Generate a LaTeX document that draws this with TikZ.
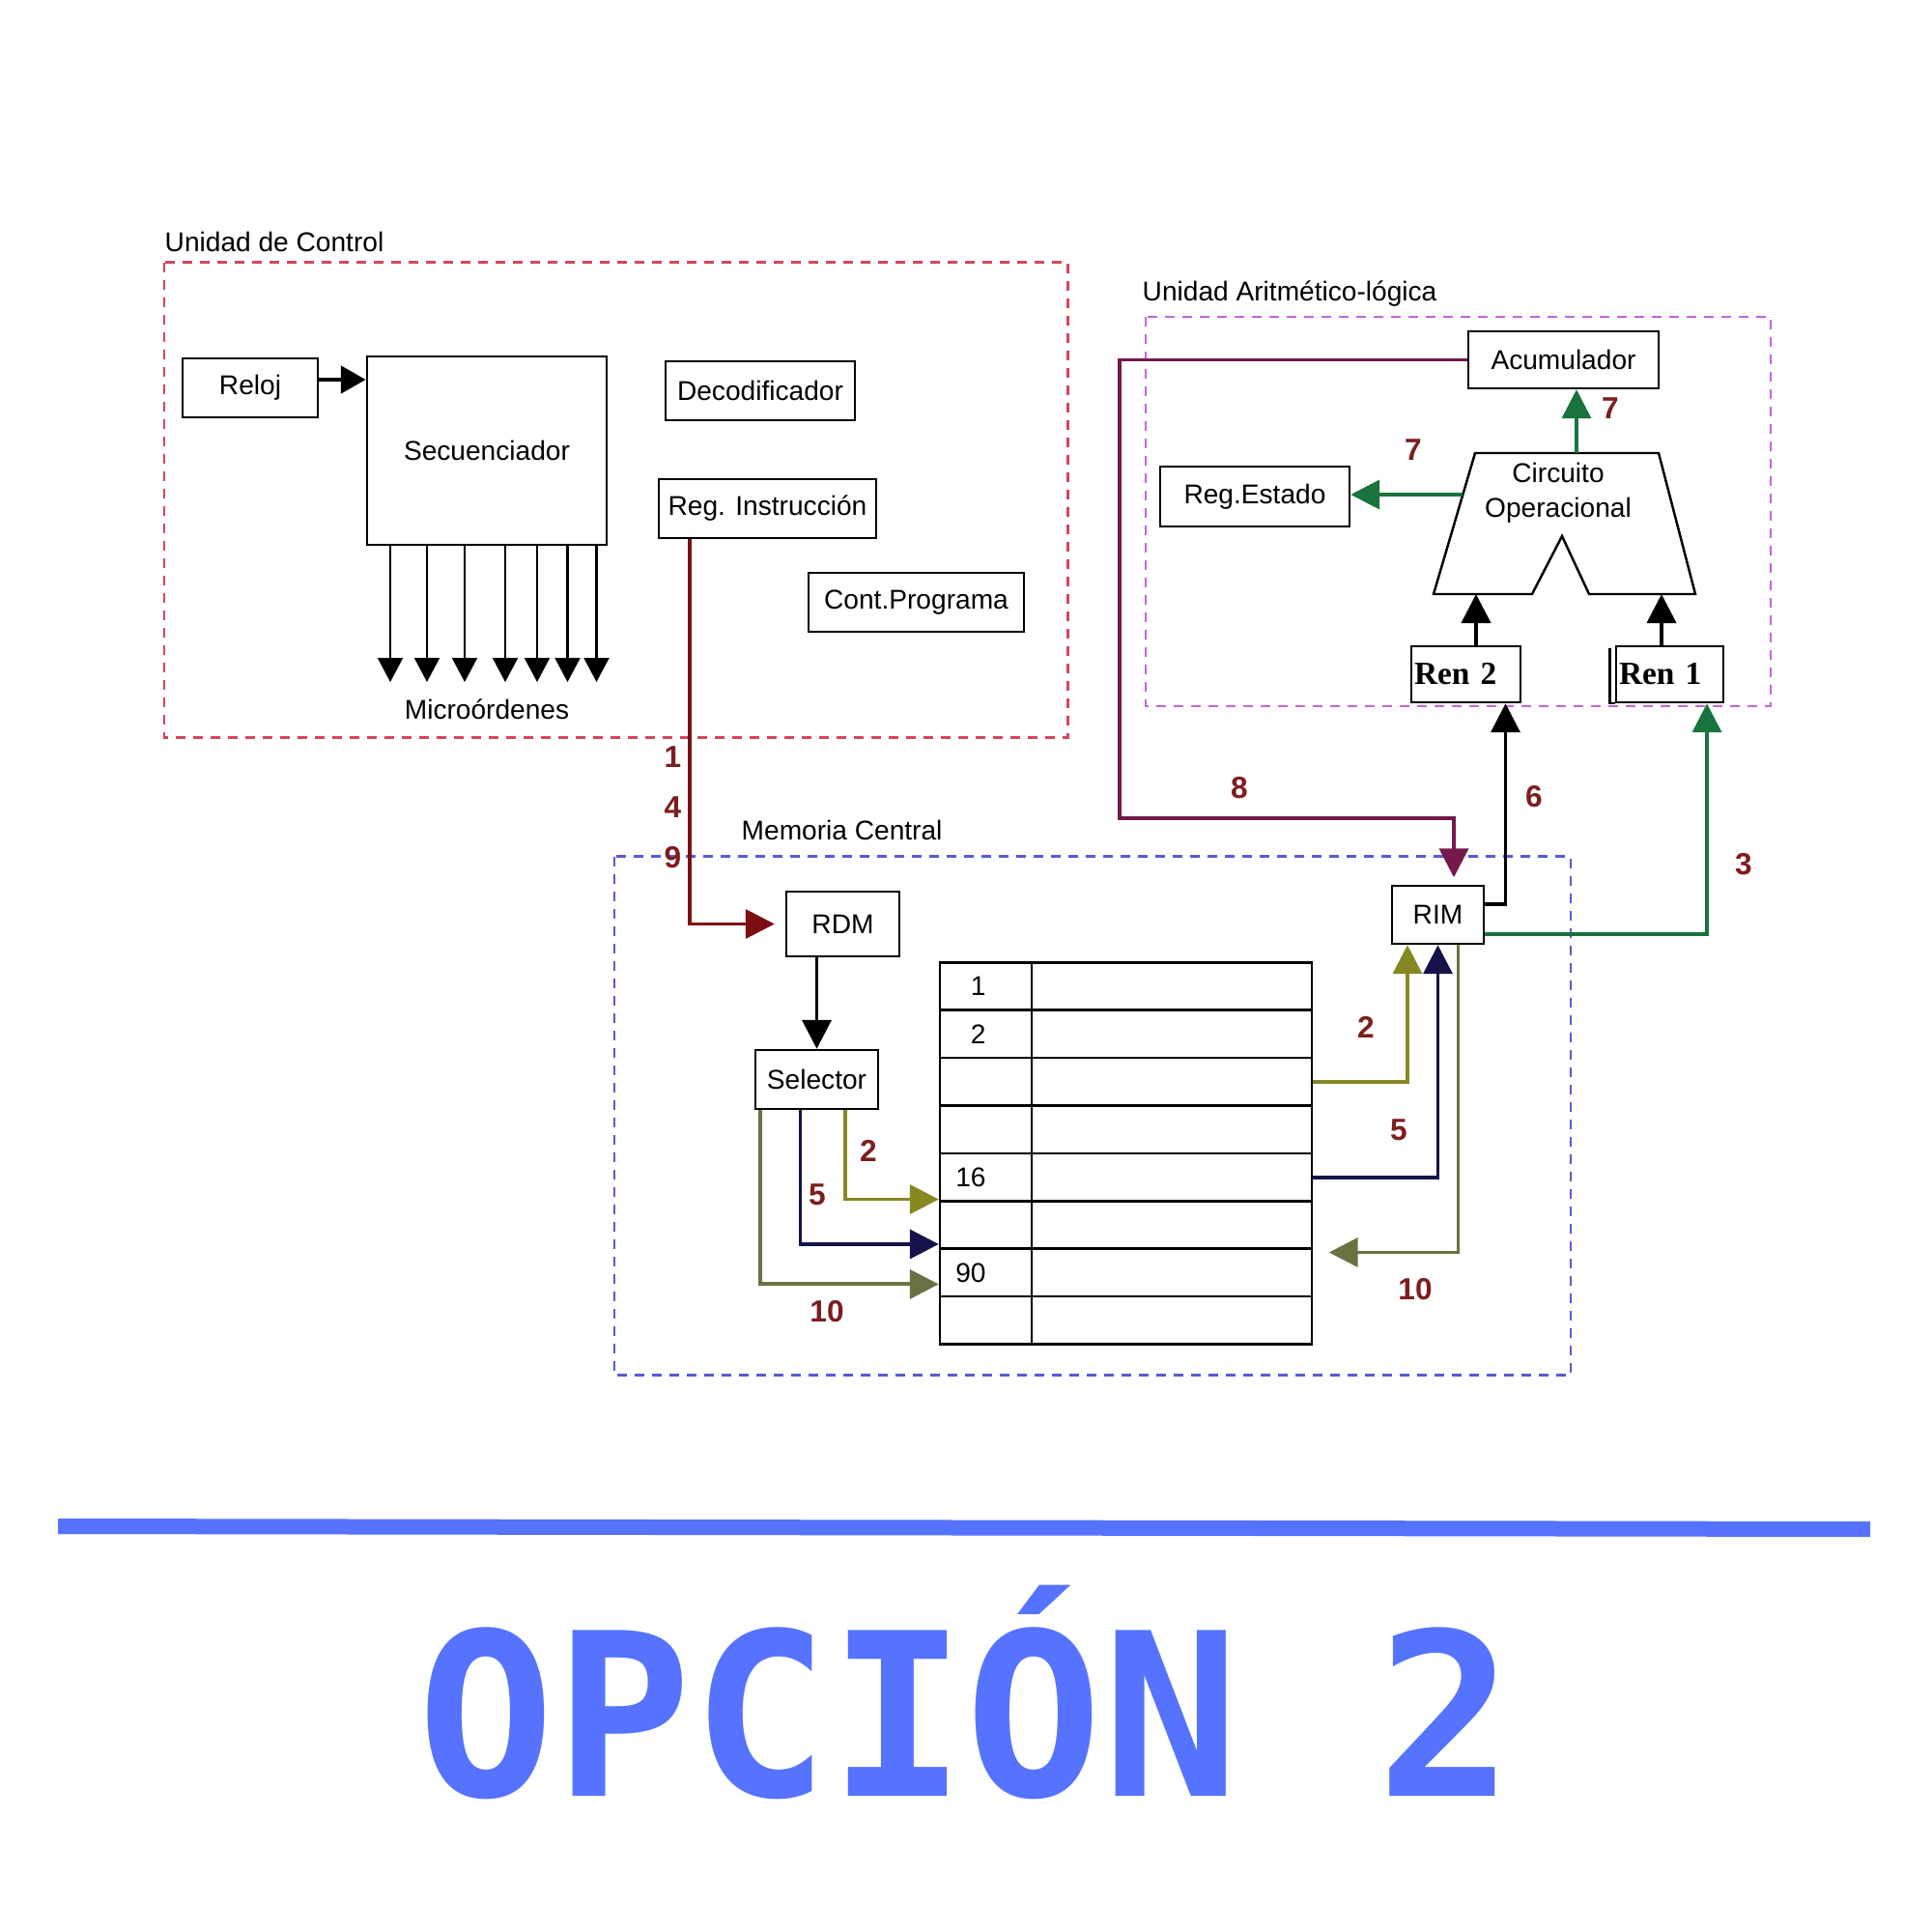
\documentclass[tikz,border=0pt]{standalone}
\usepackage{fontspec}
\setmainfont{Liberation Sans}
\newfontfamily\renfont{Liberation Serif}
\newfontfamily\optfont{DejaVu Sans Mono}
\usetikzlibrary{arrows.meta}
\definecolor{ctrlred}{RGB}{214,70,90}
\definecolor{alumag}{RGB}{200,100,220}
\definecolor{memblue}{RGB}{90,90,210}
\definecolor{dred}{RGB}{125,15,20}
\definecolor{purp}{RGB}{115,25,75}
\definecolor{grn}{RGB}{25,115,60}
\definecolor{oliv}{RGB}{135,135,35}
\definecolor{navyb}{RGB}{20,20,75}
\definecolor{olv10}{RGB}{105,115,65}
\definecolor{numred}{RGB}{125,30,30}
\definecolor{optblue}{RGB}{85,115,255}
\begin{document}
\begin{tikzpicture}[x=1cm,y=-1cm,font=\fontsize{8}{10.2}\selectfont,
  box/.style={draw,line width=0.7pt,inner sep=0pt},
  ren/.style={box,minimum height=0.58cm,font=\renfont\bfseries\fontsize{9.5}{10}\selectfont,align=left,inner xsep=0.3mm},
  cell/.style={draw,line width=0.7pt,minimum height=0.494cm,inner sep=0pt},
  conn/.style={line width=1.1pt},
  arr/.style={-{Triangle[length=3mm,width=3mm]}},
  num/.style={font=\bfseries\fontsize{9}{10}\selectfont,text=numred},
  frame/.style={line width=0.8pt,dash pattern=on 1mm off 0.8mm}]
\useasboundingbox (0,0) rectangle (20,20);
\draw[frame,ctrlred] (1.70,2.715) rectangle (11.055,7.635);
\draw[frame,alumag] (11.86,3.28) rectangle (18.33,7.31);
\draw[frame,memblue] (6.36,8.865) rectangle (16.26,14.235);
\node[anchor=base west,inner sep=0] (tuc) at (1.70,2.60) {Unidad de Control};
\node[anchor=base west,inner sep=0] (tual) at (11.82,3.11) {Unidad Aritmético-lógica};
\node[anchor=base west,inner sep=0] (tmc) at (7.67,8.69) {Memoria Central};

\node[box,minimum width=1.40cm,minimum height=0.61cm] (reloj) at (2.59,4.015) {Reloj};
\node[box,minimum width=2.48cm,minimum height=1.95cm] (secu) at (5.04,4.665) {Secuenciador};
\node[box,minimum width=1.96cm,minimum height=0.61cm] (deco) at (7.87,4.045) {Decodificador};
\node[box,minimum width=2.25cm,minimum height=0.61cm] (regins) at (7.945,5.265) {Reg. Instrucción};
\node[box,minimum width=2.23cm,minimum height=0.61cm] (contp) at (9.485,6.235) {Cont.Programa};
\node[anchor=base,inner sep=0] (micro) at (5.04,7.44) {Microórdenes};
\draw[line width=1.4pt,-{Triangle[length=2.6mm,width=2.8mm]}] ([yshift=0.85mm]reloj.east) -- ([yshift=0.85mm]reloj.east -| secu.west);
\foreach \x in {4.04,4.42,4.81,5.23,5.56,5.875,6.175}
  \draw[line width=0.6pt,-{Triangle[length=2.5mm,width=2.6mm]}] (secu.south -| \x,0) -- (\x,7.06);

\node[box,minimum width=1.17cm,minimum height=0.67cm] (rdm) at (8.725,9.565) {RDM};
\node[box,minimum width=1.27cm,minimum height=0.61cm] (sel) at (8.455,11.175) {Selector};
\node[box,minimum width=0.95cm,minimum height=0.60cm] (rim) at (14.885,9.47) {RIM};
\foreach \i in {1,...,8}{
  \node[cell,minimum width=0.95cm] (adr\i) at ({10.205},{9.716+0.494*\i}) {};
  \node[cell,minimum width=2.90cm] (cel\i) at ({12.13},{9.716+0.494*\i}) {};
}
\foreach \i/\t in {1/1,2/2,5/16,7/90}
  \node[anchor=east,inner sep=0] (no\i) at ([xshift=-4.8mm]adr\i.east) {\t};

\node[box,minimum width=1.97cm,minimum height=0.59cm] (acum) at (16.185,3.725) {Acumulador};
\node[box,minimum width=1.96cm,minimum height=0.62cm] (regest) at (12.99,5.14) {Reg.Estado};
\node[ren,text width=1.07cm] (ren2) at (15.175,6.98) {Ren 2};
\node[ren,text width=1.05cm] (ren1) at (17.285,6.98) {Ren 1};
\draw[line width=0.7pt] ([xshift=-0.55mm,yshift=-0.3mm]ren1.north west) -- ([xshift=-0.55mm]ren1.south west) -- (ren1.south west);
\coordinate (ctl) at (15.27,4.69);
\coordinate (ctr) at (17.17,4.69);
\coordinate (cbr) at (17.55,6.15);
\coordinate (cbl) at (14.84,6.15);
\coordinate (cout) at (15.143,5.12);
\draw[line width=0.7pt] (ctl) -- (ctr) -- (cbr) -- (16.45,6.15) -- (16.17,5.55) -- (15.86,6.15) -- (cbl) -- cycle;
\node[align=center] (circ) at (16.13,5.10) {Circuito\\Operacional};

\draw[conn,arr] ([xshift=1.05mm]ren2.north) -- ([xshift=1.05mm]ren2.north |- cbl);
\draw[conn,arr] ([xshift=-0.85mm]ren1.north) -- ([xshift=-0.85mm]ren1.north |- cbl);
\draw[conn,grn,arr] ([xshift=1.35mm]acum.south |- ctl) -- ([xshift=1.35mm]acum.south);
\draw[conn,grn,arr] (cout) -- (cout -| regest.east);

\draw[conn,dred,arr] (regins.south -| 7.14,0) |- ([xshift=-1.1mm]rdm.west);
\draw[conn,arr] (rdm.south -| sel.north) -- (sel.north);
\draw[conn,oliv,arr] (sel.south -| 8.75,0) |- ([yshift=0.3mm]adr5.south west);
\draw[conn,navyb,arr] (sel.south -| 8.285,0) |- ([yshift=0.6mm]adr6.south west);
\draw[conn,olv10,arr] (sel.south -| 7.87,0) |- ([yshift=-1.2mm]adr7.west);
\draw[conn,oliv,arr] (cel3.east) -| ([xshift=-3.15mm]rim.south);
\draw[conn,navyb,arr] (cel5.east) -| (rim.south);
\draw[conn,olv10,arr] ([xshift=2.1mm]rim.south) |- ([xshift=1.65mm,yshift=-0.5mm]cel7.north east);
\draw[conn,purp,arr] (acum.west) -| (11.59,8.47) -| ([xshift=1.65mm,yshift=0.75mm]rim.north);
\draw[conn,arr] ([yshift=1.1mm]rim.east) -| ([xshift=4.1mm]ren2.south);
\draw[conn,grn,arr] ([yshift=-2mm]rim.east) -| ([xshift=3.85mm]ren1.south);

\node[num] (n1) at (6.965,7.84) {1};
\node[num] (n4) at (6.965,8.36) {4};
\node[num] (n9) at (6.965,8.88) {9};
\node[num] (n8) at (12.83,8.16) {8};
\node[num] (n6) at (15.88,8.25) {6};
\node[num] (n3) at (18.05,8.95) {3};
\node[num] (n2r) at (14.14,10.635) {2};
\node[num] (n5r) at (14.48,11.70) {5};
\node[num] (n10r) at (14.65,13.345) {10};
\node[num] (n2l) at (8.99,11.915) {2};
\node[num] (n5l) at (8.46,12.37) {5};
\node[num] (n10l) at (8.56,13.575) {10};
\node[num] (n7l) at (14.63,4.66) {7};
\node[num] (n7r) at (16.67,4.23) {7};

\fill[optblue] (0.60,15.72) -- (19.36,15.75) -- (19.36,15.91) -- (0.60,15.88) -- cycle;
\node[font=\optfont\bfseries\fontsize{67}{70}\selectfont,text=optblue,anchor=base,inner sep=0] (opt) at (10.0,18.59) {OPCIÓN 2};
\end{tikzpicture}
\end{document}
